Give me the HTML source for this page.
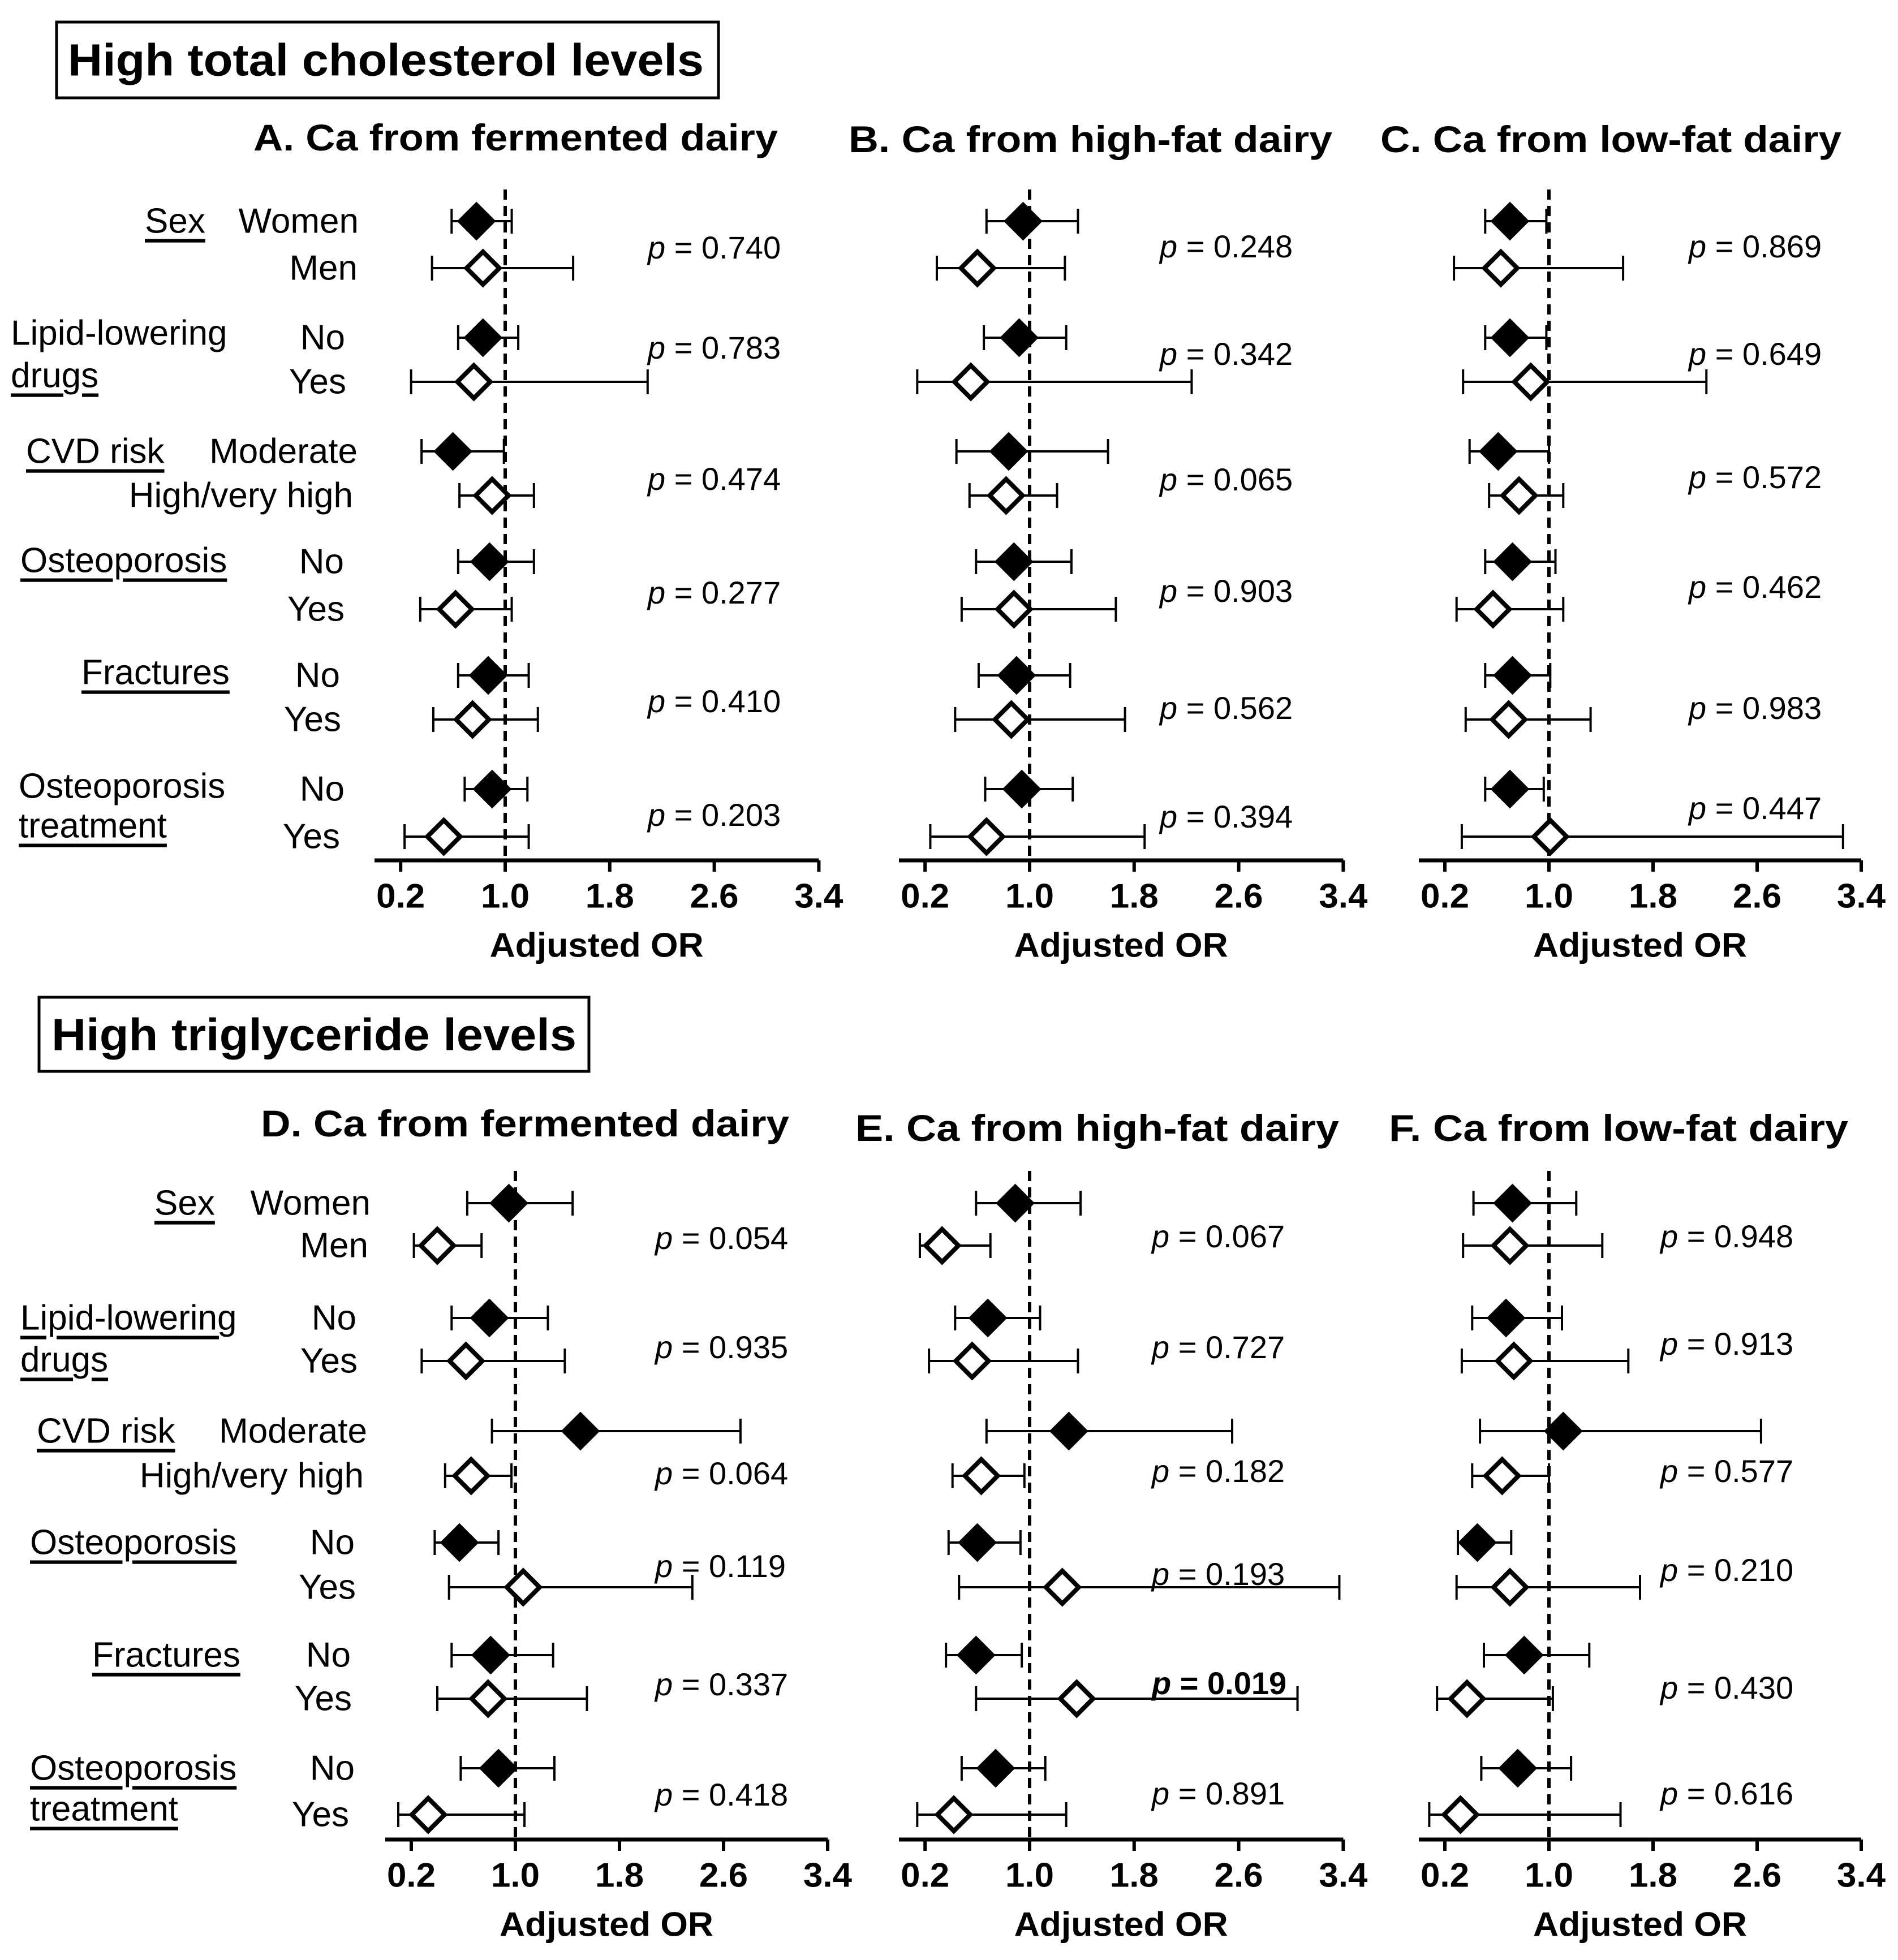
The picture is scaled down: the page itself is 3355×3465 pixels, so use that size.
<!DOCTYPE html>
<html><head><meta charset="utf-8"><style>
html,body{margin:0;padding:0;background:#fff;}
svg{display:block;}
text{font-family:"Liberation Sans",Arial,sans-serif;fill:#000;}
</style></head><body>
<svg id="fig" width="3355" height="3465" viewBox="0 0 3355 3465" xmlns="http://www.w3.org/2000/svg">
<rect x="0" y="0" width="3355" height="3465" fill="#fff"/>
<rect x="100" y="39" width="1170" height="134" fill="none" stroke="#000" stroke-width="5"/>
<text x="120" y="106" dominant-baseline="central" font-size="80" font-weight="bold" textLength="1124" lengthAdjust="spacingAndGlyphs">High total cholesterol levels</text>
<rect x="69" y="1763" width="972" height="131" fill="none" stroke="#000" stroke-width="5"/>
<text x="91" y="1829" dominant-baseline="central" font-size="80" font-weight="bold" textLength="928" lengthAdjust="spacingAndGlyphs">High triglyceride levels</text>
</svg>
<script>
// ---- data (estimates / lower CI / upper CI), row order:
// Women, Men, LipidNo, LipidYes, Moderate, High, OstNo, OstYes, FracNo, FracYes, TreatNo, TreatYes
const ticks = [0.2, 1.0, 1.8, 2.6, 3.4];
const tickLabels = ["0.2", "1.0", "1.8", "2.6", "3.4"];
const refValue = 1.0;

const estA = [0.78, 0.83, 0.83, 0.76, 0.60, 0.90, 0.88, 0.62, 0.87, 0.75, 0.90, 0.53];
const loA  = [0.59, 0.44, 0.64, 0.28, 0.36, 0.65, 0.64, 0.35, 0.64, 0.45, 0.69, 0.23];
const hiA  = [1.05, 1.52, 1.10, 2.09, 0.99, 1.22, 1.22, 1.05, 1.18, 1.25, 1.17, 1.18];
const pA   = ["0.740", "0.783", "0.474", "0.277", "0.410", "0.203"];

const estB = [0.95, 0.60, 0.92, 0.55, 0.84, 0.82, 0.88, 0.88, 0.90, 0.86, 0.94, 0.67];
const loB  = [0.67, 0.29, 0.65, 0.14, 0.44, 0.54, 0.59, 0.48, 0.61, 0.43, 0.66, 0.24];
const hiB  = [1.37, 1.27, 1.28, 2.24, 1.60, 1.21, 1.32, 1.66, 1.31, 1.73, 1.33, 1.88];
const pB   = ["0.248", "0.342", "0.065", "0.903", "0.562", "0.394"];

const estC = [0.70, 0.63, 0.70, 0.86, 0.61, 0.77, 0.72, 0.57, 0.72, 0.69, 0.70, 1.01];
const loC  = [0.51, 0.27, 0.51, 0.34, 0.39, 0.54, 0.51, 0.29, 0.51, 0.36, 0.51, 0.33];
const hiC  = [0.98, 1.57, 0.98, 2.21, 1.00, 1.11, 1.05, 1.11, 1.01, 1.32, 0.96, 3.26];
const pC   = ["0.869", "0.649", "0.572", "0.462", "0.983", "0.447"];

const estD = [0.95, 0.40, 0.80, 0.62, 1.50, 0.66, 0.57, 1.06, 0.81, 0.79, 0.87, 0.33];
const loD  = [0.63, 0.22, 0.51, 0.28, 0.82, 0.46, 0.38, 0.49, 0.51, 0.40, 0.58, 0.10];
const hiD  = [1.44, 0.74, 1.25, 1.38, 2.73, 0.97, 0.87, 2.36, 1.29, 1.55, 1.30, 1.07];
const pD   = ["0.054", "0.935", "0.064", "0.119", "0.337", "0.418"];

const estE = [0.89, 0.33, 0.68, 0.56, 1.30, 0.63, 0.60, 1.25, 0.59, 1.36, 0.74, 0.42];
const loE  = [0.59, 0.16, 0.43, 0.23, 0.67, 0.41, 0.38, 0.46, 0.36, 0.59, 0.48, 0.14];
const hiE  = [1.39, 0.70, 1.08, 1.37, 2.55, 0.96, 0.93, 3.37, 0.94, 3.05, 1.12, 1.28];
const pE   = ["0.067", "0.727", "0.182", "0.193", "0.019", "0.891"];

const estF = [0.72, 0.70, 0.67, 0.73, 1.11, 0.64, 0.45, 0.70, 0.81, 0.37, 0.76, 0.32];
const loF  = [0.42, 0.34, 0.41, 0.33, 0.47, 0.41, 0.30, 0.29, 0.50, 0.14, 0.48, 0.08];
const hiF  = [1.21, 1.41, 1.10, 1.61, 2.63, 1.00, 0.71, 1.70, 1.31, 1.03, 1.17, 1.55];
const pF   = ["0.948", "0.913", "0.577", "0.210", "0.430", "0.616"];

const NS = "http://www.w3.org/2000/svg";
const svg = document.getElementById('fig');
function mk(tag, attrs, parent) {
  const e = document.createElementNS(NS, tag);
  for (const k in attrs) e.setAttribute(k, attrs[k]);
  (parent || svg).appendChild(e);
  return e;
}

// layout (pixel geometry, not data)
const topRows = [391, 474, 597, 675, 798, 876, 993, 1077, 1194, 1272, 1395, 1479];
const botRows = [2127, 2202, 2330, 2406, 2530, 2609, 2727, 2806, 2926, 3003, 3126, 3208];
const topPY = [437, 614, 846, 1047, 1239, 1440];
const botPY = [2188, 2381, 2604, 2768, 2977, 3172];

const panels = [
  {id:'a', title:'A. Ca from fermented dairy', tx:448, tw:927, ty:243, x0:662, u:231, axisY:1521, rows:topRows, dashTop:335, py:topPY, px:1145, est:estA, lo:loA, hi:hiA, p:pA, bold:-1},
  {id:'b', title:'B. Ca from high-fat dairy', tx:1500, tw:855, ty:246, x0:1589, u:231, axisY:1521, rows:topRows, dashTop:335, py:[435,625,847,1044,1251,1443], px:2050, est:estB, lo:loB, hi:hiB, p:pB, bold:-1},
  {id:'c', title:'C. Ca from low-fat dairy', tx:2440, tw:815, ty:246, x0:2508, u:230, axisY:1521, rows:topRows, dashTop:335, py:[435,625,843,1037,1251,1428], px:2985, est:estC, lo:loC, hi:hiC, p:pC, bold:-1},
  {id:'d', title:'D. Ca from fermented dairy', tx:461, tw:934, ty:1986, x0:681, u:230, axisY:3252, rows:botRows, dashTop:2070, py:botPY, px:1158, est:estD, lo:loD, hi:hiD, p:pD, bold:-1},
  {id:'e', title:'E. Ca from high-fat dairy', tx:1512, tw:855, ty:1994, x0:1589, u:231, axisY:3252, rows:botRows, dashTop:2070, py:[2185,2381,2600,2782,2975,3170], px:2036, est:estE, lo:loE, hi:hiE, p:pE, bold:4},
  {id:'f', title:'F. Ca from low-fat dairy', tx:2455, tw:812, ty:1994, x0:2508, u:230, axisY:3252, rows:botRows, dashTop:2070, py:[2185,2375,2600,2775,2983,3170], px:2935, est:estF, lo:loF, hi:hiF, p:pF, bold:-1}
];

panels.forEach(P => {
  const g = mk('g', {});
  
  
  const X = v => P.x0 + v * P.u;

  const t = mk('text', {x:P.tx, y:P.ty, 'dominant-baseline':'central', 'font-size':66, 'font-weight':'bold', textLength:P.tw, lengthAdjust:'spacingAndGlyphs'}, g);
  t.textContent = P.title;
  
  

  const ax = mk('line', {x1:X(0), x2:X(3.4), y1:P.axisY, y2:P.axisY, stroke:'#000', 'stroke-width':7}, g);
  
  
  ticks.forEach((v, i) => {
    const tk = mk('line', {x1:X(v), x2:X(v), y1:P.axisY, y2:P.axisY + 20, stroke:'#000', 'stroke-width':6}, g);
    
    
    const tl = mk('text', {x:X(v), y:P.axisY + 63, 'text-anchor':'middle', 'dominant-baseline':'central', 'font-size':60, 'font-weight':'bold', textLength:86, lengthAdjust:'spacingAndGlyphs'}, g);
    tl.textContent = tickLabels[i];
    
    
  });
  const xt = mk('text', {x:(X(0) + X(3.4)) / 2, y:P.axisY + 150, 'text-anchor':'middle', 'dominant-baseline':'central', 'font-size':60, 'font-weight':'bold', textLength:378, lengthAdjust:'spacingAndGlyphs'}, g);
  xt.textContent = 'Adjusted OR';
  
  

  const rl = mk('line', {x1:X(refValue), x2:X(refValue), y1:P.dashTop, y2:P.axisY, stroke:'#000', 'stroke-width':6, 'stroke-dasharray':'18 11'}, g);
  
  

  P.est.forEach((v, i) => {
    const y = P.rows[i];
    const filled = (i % 2 === 0);
    const eb = mk('path', {d:'M' + X(P.lo[i]) + ' ' + (y - 22) + 'V' + (y + 22) + 'M' + X(P.lo[i]) + ' ' + y + 'H' + X(P.hi[i]) + 'M' + X(P.hi[i]) + ' ' + (y - 22) + 'V' + (y + 22), stroke:'#000', 'stroke-width':4, fill:'none'}, g);
    
    
    const cx = X(v);
    const hw = filled ? 33 : 29, hh = filled ? 33 : 29;
    const dm = mk('path', {d:'M' + (cx - hw) + ' ' + y + 'L' + cx + ' ' + (y - hh) + 'L' + (cx + hw) + ' ' + y + 'L' + cx + ' ' + (y + hh) + 'Z',
      fill: filled ? '#000' : '#fff', stroke:'#000', 'stroke-width': filled ? 2 : 8, 'stroke-linejoin':'miter'}, g);
    
    
  });

  P.p.forEach((s, i) => {
    const b = (i === P.bold);
    const pt = mk('text', {x:P.px, y:P.py[i], 'dominant-baseline':'central', 'font-size':56, 'font-weight': b ? 'bold' : 'normal', 'xml:space':'preserve'}, g);
    
    
    const ti = mk('tspan', {'font-style':'italic'}, pt);
    ti.textContent = 'p';
    const tr = mk('tspan', {}, pt);
    tr.textContent = '  =  ' + s;
  });
});

function label(txt, x, y, anchor, ul, name) {
  const t = mk('text', {x:x, y:y, 'text-anchor':anchor, 'dominant-baseline':'central', 'font-size':62, 'text-decoration': ul ? 'underline' : 'none'});
  t.textContent = txt;
  
  
}
const subTop = [["Women",634],["Men",632],["No",610],["Yes",612],["Moderate",632],["High/very high",624],["No",608],["Yes",609],["No",601],["Yes",603],["No",609],["Yes",601]];
const subBot = [["Women",655],["Men",651],["No",630],["Yes",632],["Moderate",649],["High/very high",643],["No",627],["Yes",629],["No",620],["Yes",622],["No",627],["Yes",617]];
subTop.forEach((s, i) => label(s[0], s[1], topRows[i], 'end', false, 'subgroup-label'));
subBot.forEach((s, i) => label(s[0], s[1], botRows[i], 'end', false, 'subgroup-label'));
const grpTop = [["Sex",256,391,1],["Lipid-lowering",19,589,0],["drugs",19,664,1],["CVD risk",46,798,1],["Osteoporosis",36,991,1],["Fractures",144,1189,1],["Osteoporosis",33,1390,0],["treatment",33,1460,1]];
const grpBot = [["Sex",273,2127,1],["Lipid-lowering",36,2330,1],["drugs",36,2404,1],["CVD risk",65,2530,1],["Osteoporosis",53,2727,1],["Fractures",163,2926,1],["Osteoporosis",53,3126,1],["treatment",53,3198,1]];
grpTop.forEach(s => label(s[0], s[1], s[2], 'start', s[3] === 1, 'group-label'));
grpBot.forEach(s => label(s[0], s[1], s[2], 'start', s[3] === 1, 'group-label'));
</script>
</body></html>
